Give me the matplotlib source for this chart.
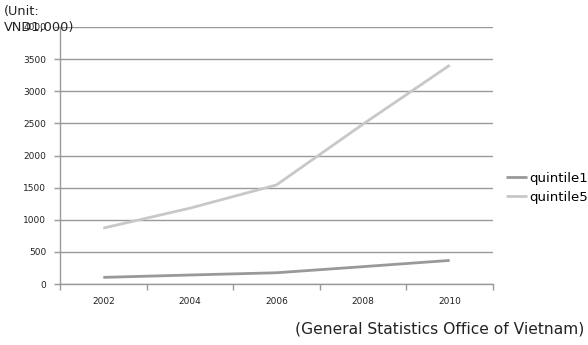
import matplotlib
matplotlib.use("Agg")
import matplotlib.pyplot as plt
import numpy as np

years = ["2002", "2004", "2006", "2008", "2010"]
quintile1 = [103, 140, 175, 270, 367]
quintile5 = [870, 1180, 1542, 2489, 3405]
y_ticks = [0, 500, 1000, 1500, 2000, 2500, 3000, 3500, 4000]

fig = plt.figure(figsize=(5.88, 3.45), dpi=100)
ax = fig.add_axes([60 / 588, 1 - 284 / 345, 433 / 588, 257 / 345])

x = np.arange(len(years))
ax.plot(x, quintile1, color="#999999", lw=2.0, label="quintile1", solid_capstyle="butt")
ax.plot(x, quintile5, color="#c8c8c8", lw=2.0, label="quintile5", solid_capstyle="butt")

ax.set_xlim(-0.5, len(years) - 0.5)
ax.set_ylim(0, 4000)
ax.set_yticks(y_ticks)
ax.set_yticklabels([str(v) for v in y_ticks], fontsize=6.5, color="#222222")
ax.set_xticks(x)
ax.set_xticklabels(years, fontsize=6.5, color="#222222")
ax.set_xticks(np.arange(-0.5, len(years)), minor=True)
ax.tick_params(axis="x", which="major", length=0, pad=9)
ax.tick_params(axis="x", which="minor", length=4, color="#999999", width=1)
ax.tick_params(axis="y", length=4, color="#999999", width=1, pad=6)

ax.grid(axis="y", color="#999999", lw=1)
ax.set_axisbelow(True)
for s in ["top", "right"]:
    ax.spines[s].set_visible(False)
for s in ["left", "bottom"]:
    ax.spines[s].set_color("#999999")
    ax.spines[s].set_linewidth(1)

fig.legend(loc="center left", bbox_to_anchor=(494 / 588, 1 - 188 / 345),
           frameon=False, fontsize=9.5, handlelength=1.6, handletextpad=0.15,
           labelspacing=0.45)

fig.text(4 / 588, 1 - 5 / 345, "(Unit:\nVND1,000)", fontsize=9.3, va="top", ha="left",
         color="#222222", linespacing=1.25)
fig.text(584 / 588, 1 - 329 / 345, "(General Statistics Office of Vietnam)",
         fontsize=11.2, ha="right", va="center", color="#222222")

fig.savefig("out.png", dpi=100)
